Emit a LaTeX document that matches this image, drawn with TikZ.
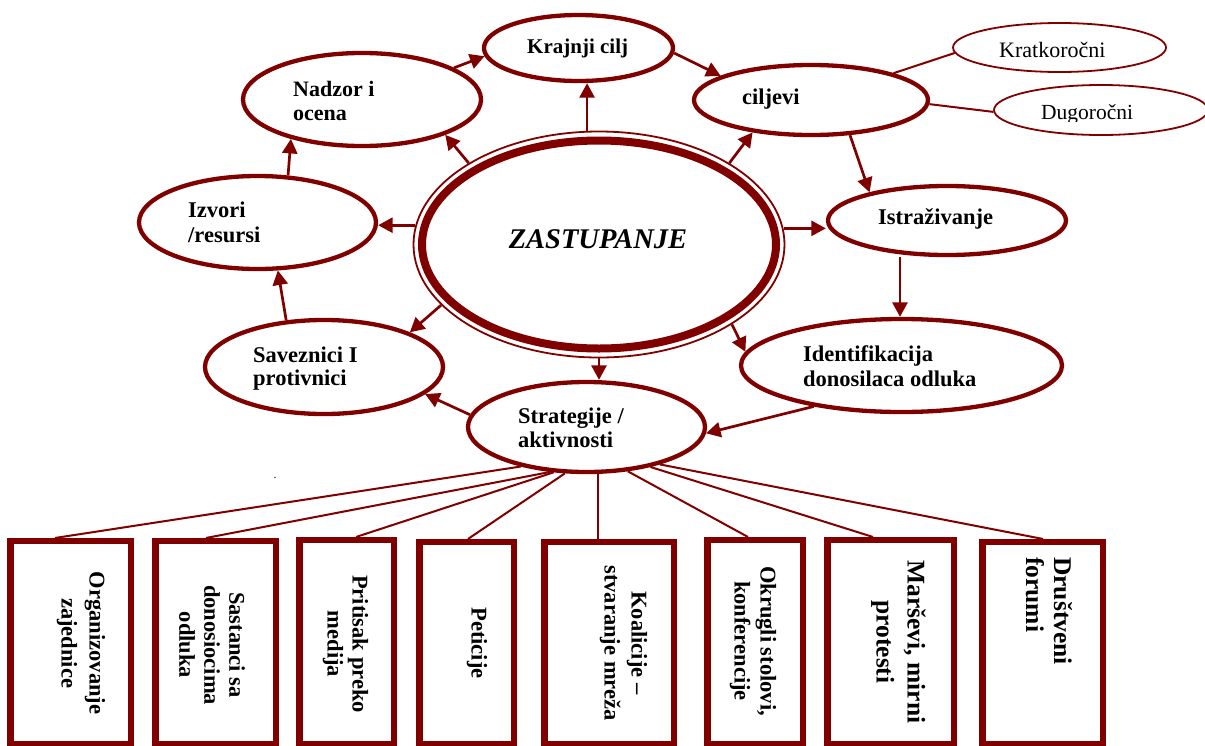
\documentclass[tikz,border=0pt]{standalone}
\usepackage{fontspec}
\setmainfont{Liberation Serif}
\usetikzlibrary{arrows.meta,shapes.geometric}
\definecolor{dred}{RGB}{128,0,0}
\begin{document}
\begin{tikzpicture}[x=1pt,y=-1pt,
  oval/.style={ellipse, draw=dred, line width=4.3pt, inner sep=0pt},
  thinoval/.style={ellipse, draw=dred, line width=1.8pt, inner sep=0pt},
  arr/.style={draw=dred, line width=2.7pt, -{Triangle[length=14.5pt,width=15pt]}},
  conn/.style={draw=dred, line width=2pt},
  actbox/.style={rectangle, draw=dred, line width=6.5pt, inner sep=0pt},
  lbl/.style={font=\bfseries\fontsize{22.5}{25}\selectfont, anchor=base west, inner sep=0pt},
  rlbl/.style={font=\fontsize{22}{25}\selectfont, anchor=base west, inner sep=0pt},
  boxlbl/.style={font=\bfseries\fontsize{22.5}{27}\selectfont, rotate=-90, align=center, inner sep=0pt},
]
\path[use as bounding box] (0,0) rectangle (1205,745);

% central node
\node[ellipse, draw=dred, line width=1.8pt, inner sep=0pt, minimum width=371pt, minimum height=226pt] (zast) at (599,244.5) {};
\node[ellipse, draw=dred, line width=8pt, inner sep=0pt, minimum width=354pt, minimum height=208pt] (zastin) at (599,244.5) {};
\node[font=\bfseries\itshape\fontsize{28.5}{30}\selectfont, anchor=base, inner sep=0pt] (tzast) at (598,248) {ZASTUPANJE};

% ovals
\node[oval, minimum width=189pt, minimum height=66pt] (kraj) at (578.5,48) {};
\node[oval, minimum width=238pt, minimum height=93pt] (nad) at (362,99.5) {};
\node[oval, minimum width=234pt, minimum height=70pt] (cil) at (811,100) {};
\node[thinoval, minimum width=213pt, minimum height=49pt] (krat) at (1059.5,47.5) {};
\node[thinoval, minimum width=214pt, minimum height=50pt] (dug) at (1101,110) {};
\node[oval, minimum width=238pt, minimum height=69pt] (istr) at (947,220.5) {};
\node[oval, minimum width=321pt, minimum height=93pt] (ident) at (901.5,365.5) {};
\node[oval, minimum width=237pt, minimum height=90pt] (strat) at (586.5,427) {};
\node[oval, minimum width=238pt, minimum height=94pt] (sav) at (324,367) {};
\node[oval, minimum width=237pt, minimum height=93pt] (izv) at (257.5,222.5) {};

% oval texts
\node[lbl, font=\bfseries\fontsize{21}{24}\selectfont] (tkraj) at (527,53) {Krajnji cilj};
\node[lbl, font=\bfseries\fontsize{22}{24}\selectfont] (tnad1) at (293,96) {Nadzor i};
\node[lbl, font=\bfseries\fontsize{22}{24}\selectfont] (tnad2) at (293,120) {ocena};
\node[lbl] (tcil) at (742,104) {ciljevi};
\node[rlbl] (tkrat) at (999,57) {Kratkoročni};
\begin{scope}
\clip (985,90) rectangle (1205,121.5);
\node[rlbl, font=\fontsize{21.5}{25}\selectfont] (tdug) at (1041,119) {Dugoročni};
\end{scope}
\node[lbl] (tistr) at (878,224) {Istraživanje};
\node[lbl] (tident1) at (803,361.5) {Identifikacija};
\node[lbl] (tident2) at (803,386.5) {donosilaca odluka};
\node[lbl] (tstrat1) at (518,423) {Strategije /};
\node[lbl] (tstrat2) at (518,447) {aktivnosti};
\node[lbl] (tsav1) at (253,362) {Saveznici I};
\node[lbl] (tsav2) at (253,385.5) {protivnici};
\node[lbl] (tizv1) at (188,217.5) {Izvori};
\node[lbl] (tizv2) at (188,242.5) {/resursi};

% arrows
\draw[arr] (nad.19) -- (kraj.185);
\draw[arr] (zast.96) -- (zast.96 |- kraj.south);
\draw[arr] (kraj.357) -- (cil.165);
\draw[arr] (zast.32.6) -- (cil.209);
\draw[arr] (cil.318) -- (istr.160);
\draw[arr] (zast.5.6) -- (zast.5.6 -| istr.west);
\draw[arr] ([xshift=-47pt]istr.south) -- ([xshift=-1.5pt]ident.north);
\draw[arr] (zast.329.6) -- (ident.175);
\draw[arr] (ident.205) -- (strat.357.6);
\draw[arr] (zast.south) -- (zast.south |- strat.north);
\draw[arr] (strat.174.2) -- (sav.345.7);
\draw[arr] (zast.201.7) -- (sav.22.8);
\draw[arr] (sav.129.6) -- (izv.293);
\draw[arr] (zast.174.4) -- (zast.174.4 -| izv.east);
\draw[arr] (izv.57.7) -- (nad.209.2);
\draw[arr] (zast.148.2) -- (nad.337);

% goals lines
\draw[conn] (cil.18.1) -- (krat.183);
\draw[conn] (cil.358.6) -- (dug.181.6);

% activity boxes
\node[actbox, minimum width=120.5pt, minimum height=202.75pt] (b1) at (70.5,642.6) {};
\node[actbox, minimum width=120.5pt, minimum height=202.75pt] (b2) at (215.5,642.6) {};
\node[actbox, minimum width=94.5pt, minimum height=203.75pt] (b3) at (346.5,642.1) {};
\node[actbox, minimum width=94.5pt, minimum height=201.75pt] (b4) at (466.5,643.1) {};
\node[actbox, minimum width=129.5pt, minimum height=201.75pt] (b5) at (609,643.1) {};
\node[actbox, minimum width=95.5pt, minimum height=203.75pt] (b6) at (755,642.1) {};
\node[actbox, minimum width=126.5pt, minimum height=203.75pt] (b7) at (890.5,642.1) {};
\node[actbox, minimum width=120.5pt, minimum height=201.75pt] (b8) at (1042.5,643.1) {};

\node[boxlbl, font=\bfseries\fontsize{22.5}{28}\selectfont] (tb1) at (81,643) {Organizovanje\\zajednice};
\node[boxlbl, font=\bfseries\fontsize{22.5}{25}\selectfont] (tb2) at (212,645) {Sastanci sa\\donosiocima\\odluka};
\node[boxlbl, font=\bfseries\fontsize{22.5}{25}\selectfont] (tb3) at (345.5,644) {Pritisak preko\\medija};
\node[boxlbl] (tb4) at (477,643) {Peticije};
\node[boxlbl] (tb5) at (623.5,643) {Koalicije --\\stvaranje mreža};
\node[boxlbl, font=\bfseries\fontsize{22.5}{26}\selectfont] (tb6) at (753,641) {Okrugli stolovi,\\konferencije};
\node[boxlbl, font=\bfseries\fontsize{25.5}{31}\selectfont] (tb7) at (898.5,642) {Marševi, mirni\\protesti};
\node[boxlbl, font=\bfseries\fontsize{25.5}{28}\selectfont, align=left, anchor=west] (tb8) at (1049,557) {Društveni\\forumi};

% connectors to boxes
\draw[conn] (strat.211) -- ([xshift=-15.5pt]b1.north);
\draw[conn] (strat.231) -- ([xshift=-9.5pt]b2.north);
\draw[conn] (strat.234) -- ([xshift=9.5pt]b3.north);
\draw[conn] (strat.245) -- ([xshift=1.5pt]b4.north);
\draw[conn] ([xshift=11.5pt]strat.south) -- ([xshift=-11pt]b5.north);
\draw[conn] (strat.313) -- ([xshift=-7pt]b6.north);
\draw[conn] (strat.328) -- ([xshift=-17.5pt]b7.north);
\draw[conn] (strat.333) -- ([xshift=0.5pt]b8.north);

\node[font=\fontsize{12}{12}\selectfont, inner sep=0pt, anchor=base] (dot) at (275,478.5) {.};
\end{tikzpicture}
\end{document}
